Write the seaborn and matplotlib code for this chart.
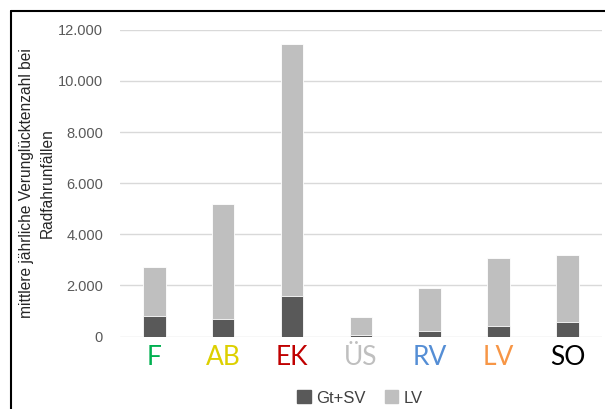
import pandas as pd
import seaborn as sns
import matplotlib.pyplot as plt
from matplotlib.lines import Line2D
from matplotlib.patches import Patch
from matplotlib.ticker import FuncFormatter

categories = ["F", "AB", "EK", "ÜS", "RV", "LV", "SO"]
gt_sv = [810, 690, 1590, 60, 200, 430, 570]
lv = [1900, 4500, 9840, 720, 1720, 2660, 2630]
label_colors = ["#00B050", "#DDD000", "#C00000", "#BFBFBF", "#558ED5", "#F79646", "#000000"]

df = pd.DataFrame({"cat": categories, "gt_sv": gt_sv, "lv": lv})
df["total"] = df["gt_sv"] + df["lv"]

sns.set_style("white")
plt.rcParams["font.family"] = ["Liberation Sans", "DejaVu Sans"]

fig = plt.figure(figsize=(6.05, 4.09), dpi=100)
ax = fig.add_axes([0.198, 0.177, 0.797, 0.75])

dark = "#595959"
light = "#BFBFBF"
sns.barplot(data=df, x="cat", y="total", color=light, width=0.33, ax=ax,
            edgecolor="white", linewidth=0.6, zorder=3)
sns.barplot(data=df, x="cat", y="gt_sv", color=dark, width=0.33, ax=ax,
            edgecolor="white", linewidth=0.6, zorder=4)

ax.set_ylim(0, 12000)
ax.set_yticks(range(0, 12001, 2000))
ax.yaxis.set_major_formatter(FuncFormatter(lambda v, p: f"{int(v):,}".replace(",", ".")))
ax.grid(axis="y", color="#D9D9D9", linewidth=1, zorder=0)
ax.set_axisbelow(True)
for s in ax.spines.values():
    s.set_visible(False)
ax.tick_params(axis="y", length=0, labelsize=10.5, labelcolor="#595959", pad=12)
ax.tick_params(axis="x", length=0, pad=6)
ax.set_xlabel("")
ax.set_ylabel("mittlere jährliche Verunglücktenzahl bei\nRadfahrunfällen",
              fontsize=11.2, color="#262626", linespacing=1.5)
ax.yaxis.set_label_coords(-0.135, 0.5)
ax.set_xticks(range(len(categories)))
ax.set_xticklabels(categories, fontsize=19, family=["Lato", "DejaVu Sans"])
for t, c in zip(ax.get_xticklabels(), label_colors):
    t.set_color(c)
ax.set_xlim(-0.5, len(categories) - 0.5)

handles = [Patch(color=dark, label="Gt+SV"), Patch(color=light, label="LV")]
fig.legend(handles=handles, loc="center", bbox_to_anchor=(0.595, 0.027), ncol=2,
           frameon=False, fontsize=12, handlelength=0.8, handleheight=0.8,
           handletextpad=0.3, columnspacing=1.2, labelcolor="#404040")

# Rahmen oben und links
fig.add_artist(Line2D([0.018, 1.0], [0.972, 0.972], color="black", lw=1.5,
                      transform=fig.transFigure))
fig.add_artist(Line2D([0.018, 0.018], [0.0, 0.972], color="black", lw=1.5,
                      transform=fig.transFigure))

fig.savefig("out.png", dpi=100)
